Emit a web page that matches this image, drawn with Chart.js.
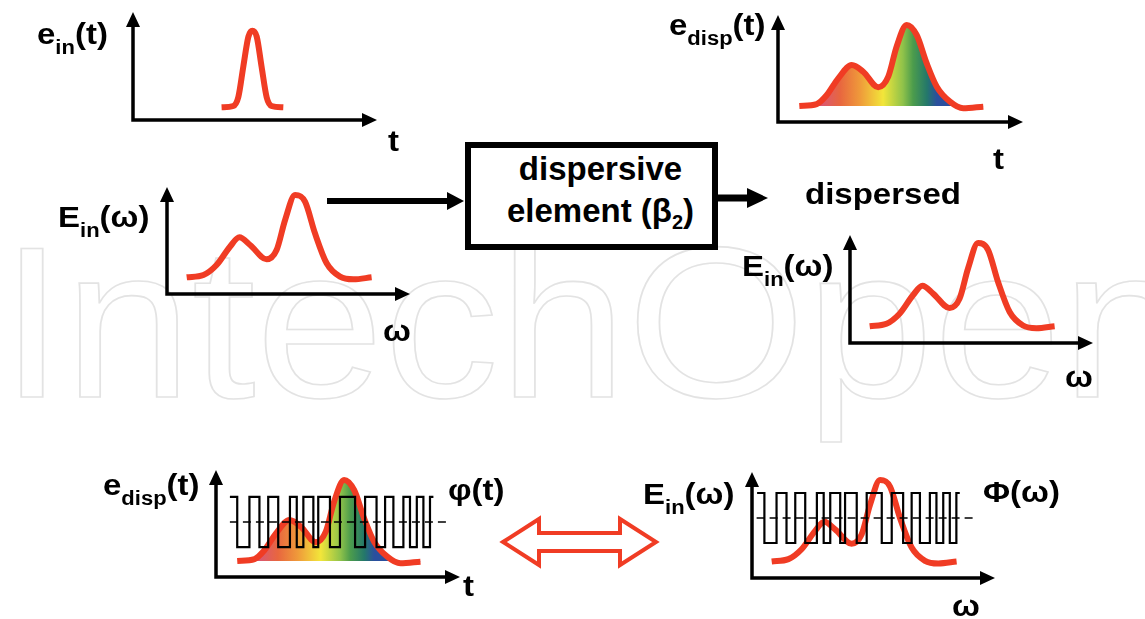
<!DOCTYPE html>
<html>
<head>
<meta charset="utf-8">
<script src="https://cdn.jsdelivr.net/npm/chart.js@4.4.1/dist/chart.umd.min.js"></script>
<style>
body { margin: 0; background: #fff; }
#stage { position: relative; width: 1145px; height: 619px; overflow: hidden;
         font-family: "Liberation Sans", Arial, sans-serif; font-weight: bold; color: #000; }
#mark { position: absolute; left: 0px; top: 215px; font-size: 215px; font-weight: normal; line-height: 1;
        color: transparent; -webkit-text-stroke: 1.6px #e3e3e3; white-space: nowrap;
        transform: scaleX(1.07); transform-origin: 0 0; }
.lbl { position: absolute; font-size: 30px; line-height: 1; white-space: nowrap;
       transform: scaleX(1.1); transform-origin: 0 0; }
.lbl sub { font-size: 20px; line-height: 0; vertical-align: -10px; }
canvas.plot { position: absolute; }
#box { position: absolute; left: 465px; top: 142px; width: 253px; height: 108px; box-sizing: border-box;
       border: 6px solid #000; text-align: center; font-size: 33px; line-height: 42px;
       padding-left: 18px; background: #fff; }
#box sub { font-size: 20px; line-height: 0; vertical-align: -7px; }
#deco { position: absolute; left: 0; top: 0; }
</style>
</head>
<body>
<div id="stage">
  <div id="mark">IntechOpen</div>

  <canvas class="plot" id="chartPulse"></canvas>
  <canvas class="plot" id="chartDisp"></canvas>
  <canvas class="plot" id="chartSpecL"></canvas>
  <canvas class="plot" id="chartSpecR"></canvas>
  <canvas class="plot" id="chartPhaseT"></canvas>
  <canvas class="plot" id="chartPhaseW"></canvas>

  <svg id="deco" width="1145" height="619">
    <!-- input -> element -> output arrows -->
    <line x1="327" y1="201" x2="449" y2="201" stroke="#000" stroke-width="6"/>
    <polygon points="464,201 447,192 447,210" fill="#000"/>
    <line x1="718" y1="198" x2="750" y2="198" stroke="#000" stroke-width="7"/>
    <polygon points="768,198 747,188 747,208" fill="#000"/>
    <!-- equivalence arrow -->
    <polygon points="503,542 539,519 539,533 620,533 620,519 656,542 620,565 620,551 539,551 539,565"
             fill="#fff" stroke="#f03c24" stroke-width="4" stroke-linejoin="miter"/>
  </svg>

  <div id="box">dispersive<br>element (β<sub>2</sub>)</div>

  <div class="lbl" style="left:37px;top:19px">e<sub>in</sub>(t)</div>
  <div class="lbl" style="left:388px;top:126px">t</div>
  <div class="lbl" style="left:669px;top:10px">e<sub>disp</sub>(t)</div>
  <div class="lbl" style="left:993px;top:144px">t</div>
  <div class="lbl" style="left:58px;top:202px">E<sub>in</sub>(ω)</div>
  <div class="lbl" style="left:383px;top:316px">ω</div>
  <div class="lbl" style="left:805px;top:179px">dispersed</div>
  <div class="lbl" style="left:742px;top:251px">E<sub>in</sub>(ω)</div>
  <div class="lbl" style="left:1065px;top:362px">ω</div>
  <div class="lbl" style="left:103px;top:470px">e<sub>disp</sub>(t)</div>
  <div class="lbl" style="left:448px;top:475px">φ(t)</div>
  <div class="lbl" style="left:463px;top:571px">t</div>
  <div class="lbl" style="left:643px;top:479px">E<sub>in</sub>(ω)</div>
  <div class="lbl" style="left:983px;top:477px">Φ(ω)</div>
  <div class="lbl" style="left:952px;top:591px">ω</div>
</div>

<script>
// All plots use 0..100 on both axes (axis length = 100).

// Short input pulse e_in(t)
const pulseT   = [36.3, 41.1, 43.2, 45.2, 47.3, 48.9, 50.7, 52.7, 54.8, 56.8, 61.6];
const pulseAmp = [11.7, 13.0, 21.6, 49.4, 77.2, 82.7, 77.2, 49.4, 20.9, 13.0, 11.7];

// Input spectrum E_in(w), two humps
const specW   = [8.1, 15.0, 20.4, 25.9, 29.8, 34.2, 41.0, 45.1, 48.6, 52.7, 56.8, 60.9, 65.7, 71.2, 76.7, 84.2];
const specAmp = [15.6, 17.8, 27.1, 44.2, 53.0, 45.8, 32.4, 41.1, 69.2, 92.5, 86.3, 56.7, 28.7, 16.2, 13.7, 15.6];

// Dispersed pulse e_disp(t), same shape as the spectrum
const dispT   = [8.7, 15.8, 19.9, 24.6, 30.1, 34.8, 40.9, 45.0, 48.4, 52.5, 56.6, 60.7, 64.8, 70.2, 75.6, 83.8];
const dispAmp = [15.0, 16.8, 25.2, 40.8, 53.3, 47.0, 32.4, 42.4, 70.4, 90.7, 81.3, 54.8, 33.0, 19.0, 12.8, 14.3];
const dispBase = 15;

// Colour map of the dispersed pulse (instantaneous frequency along t)
const rainbowAt     = [15.9, 25.3, 33.5, 42.9, 51.0, 55.1, 60.8, 64.9];
const rainbowColors = ['#d6547f', '#e8663f', '#ef9a3a', '#f2e63a', '#8fc24a', '#4c9c4c', '#24786a', '#2a4f9e'];

// Binary phase mask: edge positions (relative to mask start) and level of each segment
const phaseEdges  = [0, 3.0, 8.0, 12.1, 15.7, 19.8, 24.6, 27.4, 30.1, 34.2, 36.2, 41.0, 45.1,
                     51.3, 55.4, 60.1, 63.6, 67.0, 71.1, 73.8, 76.6, 79.3, 82.0, 83.4];
const phaseLevels = [1, -1, 1, -1, 1, -1, 1, -1, 1, -1, 1, -1,
                     1, -1, 1, -1, 1, -1, 1, -1, 1, -1, 1];

const RED = '#f03c24';
const PAD = 10;

// axes with arrow heads, drawn along the chart area edges
const axisArrows = {
    id: 'axisArrows',
    beforeDatasetsDraw(chart) {
        const { ctx, chartArea: a } = chart;
        ctx.save();
        ctx.strokeStyle = '#000';
        ctx.fillStyle = '#000';
        ctx.lineWidth = 3.5;
        ctx.lineJoin = 'miter';
        ctx.beginPath();
        ctx.moveTo(a.left, a.top + 12);
        ctx.lineTo(a.left, a.bottom);
        ctx.lineTo(a.right - 12, a.bottom);
        ctx.stroke();
        ctx.beginPath();
        ctx.moveTo(a.left, a.top);
        ctx.lineTo(a.left - 7, a.top + 15);
        ctx.lineTo(a.left + 7, a.top + 15);
        ctx.closePath();
        ctx.fill();
        ctx.beginPath();
        ctx.moveTo(a.right, a.bottom);
        ctx.lineTo(a.right - 15, a.bottom - 7);
        ctx.lineTo(a.right - 15, a.bottom + 7);
        ctx.closePath();
        ctx.fill();
        ctx.restore();
    }
};

function zipXY(xs, ys) {
    return xs.map((x, i) => ({ x: x, y: ys[i] }));
}

function rainbowFill(context) {
    const chart = context.chart;
    if (!chart.chartArea) return 'rgba(0,0,0,0)';
    const xs = chart.scales.x;
    const x0 = xs.getPixelForValue(rainbowAt[0]);
    const x1 = xs.getPixelForValue(rainbowAt[rainbowAt.length - 1]);
    const g = chart.ctx.createLinearGradient(x0, 0, x1, 0);
    rainbowAt.forEach((v, i) => {
        g.addColorStop((v - rainbowAt[0]) / (rainbowAt[rainbowAt.length - 1] - rainbowAt[0]), rainbowColors[i]);
    });
    return g;
}

function phaseMask(start, center, amp) {
    let pts = [];
    for (let i = 0; i < phaseLevels.length; i++) {
        const y = center + amp * phaseLevels[i];
        pts.push({ x: start + phaseEdges[i], y: y });
        pts.push({ x: start + phaseEdges[i + 1], y: y });
    }
    return pts;
}

function redCurve(xs, ys, withRainbow) {
    return {
        data: zipXY(xs, ys),
        borderColor: RED,
        borderWidth: 6,
        cubicInterpolationMode: 'monotone',
        pointRadius: 0,
        fill: withRainbow ? { value: dispBase } : false,
        backgroundColor: withRainbow ? rainbowFill : 'rgba(0,0,0,0)',
        order: 2
    };
}

function maskSets(start, center, amp, dashFrom, dashTo) {
    return [{
        data: phaseMask(start, center, amp),
        borderColor: '#000',
        borderWidth: 2.2,
        tension: 0,
        pointRadius: 0,
        fill: false,
        order: 0
    }, {
        data: [{ x: dashFrom, y: center }, { x: dashTo, y: center }],
        borderColor: '#000',
        borderWidth: 1.5,
        borderDash: [8, 5],
        pointRadius: 0,
        fill: false,
        order: 1
    }];
}

// one small plot; (ox, oy) is the axis origin in page pixels, w/h the axis lengths
function makePlot(id, ox, oy, w, h, datasets) {
    const cv = document.getElementById(id);
    cv.width = w + 2 * PAD;
    cv.height = h + 2 * PAD;
    cv.style.left = (ox - PAD) + 'px';
    cv.style.top = (oy - h - PAD) + 'px';
    return new Chart(cv.getContext('2d'), {
        type: 'line',
        data: { datasets: datasets },
        options: {
            responsive: false,
            animation: false,
            devicePixelRatio: 1,
            layout: { padding: PAD },
            plugins: { legend: { display: false }, tooltip: { enabled: false } },
            scales: {
                x: { type: 'linear', min: 0, max: 100, display: false },
                y: { min: 0, max: 100, display: false }
            }
        },
        plugins: [axisArrows]
    });
}

makePlot('chartPulse', 133, 120, 244, 108, [redCurve(pulseT, pulseAmp, false)]);
makePlot('chartDisp', 778, 122, 245, 107, [redCurve(dispT, dispAmp, true)]);
makePlot('chartSpecL', 167, 294, 243, 107, [redCurve(specW, specAmp, false)]);
makePlot('chartSpecR', 850, 343, 243, 108, [redCurve(specW, specAmp, false)]);
makePlot('chartPhaseT', 216, 577, 244, 107,
    maskSets(5.7, 51.4, 23.4, 5.7, 94.7).concat([redCurve(dispT, dispAmp, true)]));
makePlot('chartPhaseW', 752, 578, 243, 106,
    maskSets(2.1, 56.6, 23.6, 1.9, 92.5).concat([redCurve(specW, specAmp, false)]));
</script>
</body>
</html>
